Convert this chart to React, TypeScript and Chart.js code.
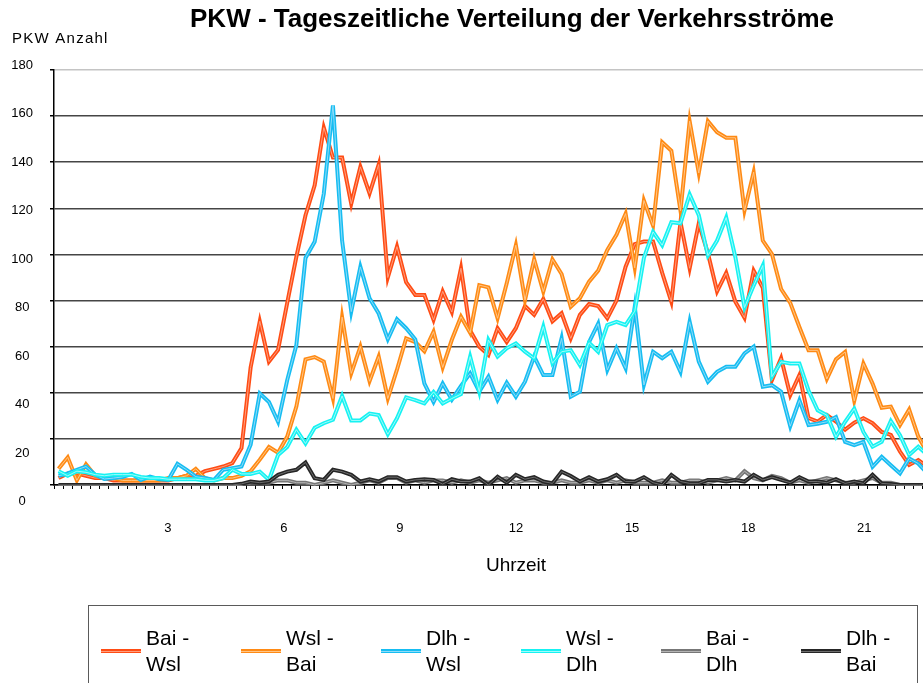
import React, { useEffect, useRef } from 'react';
import { Chart, registerables } from 'chart.js';

Chart.register(...registerables);

// ---- text ----
const TITLE = 'PKW - Tageszeitliche Verteilung der Verkehrsströme';
const Y_TITLE = 'PKW Anzahl';
const X_TITLE = 'Uhrzeit';

// ---- categories: 15-minute slots of the day ----
const SLOTS: string[] = Array.from({ length: 96 }, (_, i) => {
  const h = Math.floor(i / 4);
  const m = (i % 4) * 15;
  return `${String(h).padStart(2, '0')}:${String(m).padStart(2, '0')}`;
});

// ---- tick labels ----
const Y_TICKS = [0, 20, 40, 60, 80, 100, 120, 140, 160, 180];
const HOUR_TICKS = [3, 6, 9, 12, 15, 18, 21];

// ---- series ----
const SERIES_NAMES = ['Bai - Wsl', 'Wsl - Bai', 'Dlh - Wsl', 'Wsl - Dlh', 'Bai - Dlh', 'Dlh - Bai'];

const BAI_WSL = [
  3, 5, 5, 4, 3, 3, 2, 2, 2, 2,
  2, 2, 2, 3, 4, 4, 6, 7, 8, 9.5,
  16, 51, 71, 53.5, 58.6, 79, 99, 117, 130, 155,
  142, 142, 122, 138, 126.5, 139, 90, 103.4, 88, 82.4,
  82.4, 71.6, 84, 75, 94, 67, 60, 56.4, 68, 62,
  68, 77.6, 73.8, 80.7, 71, 74.5, 63.6, 73.8, 78.5, 77.6,
  72.3, 80, 94.7, 104.5, 105.6, 105.6, 92, 79.5, 114, 94,
  113.5, 100.5, 84, 92, 79.5, 72.5, 93, 85.5, 45.5, 55,
  39, 47.7, 29, 27.5, 30.4, 27.5, 24, 27, 29, 26.8,
  23, 21.7, 14.5, 8.7, 10.8, 8,
];

const WSL_BAI = [
  7, 12, 2, 9, 4, 3, 3, 2, 2, 2,
  2, 2, 3, 3, 4, 7, 3, 2, 3, 3,
  4, 6, 11, 16.5, 14, 21, 34, 54.5, 55.5, 53.5,
  37.5, 72.8, 48.4, 60, 45, 55.7, 37.5, 50, 63.6, 62,
  58, 66.5, 51, 63, 73, 66, 86.7, 85.7, 72.3, 87.5,
  104, 80.2, 97.9, 83.9, 97.9, 91.5, 77.3, 81, 88.2, 93,
  102, 108.5, 117.7, 94.2, 123.4, 112.5, 148.7, 145, 119, 157.8,
  135.3, 157.8, 153, 150.6, 150.6, 119, 135.7, 106, 100.2, 85,
  79, 68.5, 58.4, 58.4, 46, 54.5, 57.7, 36.5, 52.7, 44,
  33.5, 34, 26, 32.7, 21, 14,
];

const DLH_WSL = [
  4, 5, 6.6, 8, 4.4, 2.6, 3, 3.5, 4.8, 2.2,
  3.6, 2.5, 2.2, 9.2, 6.6, 3.6, 3, 2.2, 6.6, 7.3,
  8, 17.5, 39.7, 36, 27.4, 45.5, 60.7, 98.5, 105.5, 126.3,
  164.6, 106, 75.2, 94.6, 81, 74.4, 63.2, 71.9, 68, 63.2,
  44, 36, 44, 37, 43, 48.4, 40.5, 47, 36.9, 44.4,
  38.3, 44.8, 55.7, 47.7, 47.7, 63.6, 38.3, 40.5, 62, 70,
  49.9, 59.3, 50.6, 77.3, 43.4, 57.8, 55, 57.8, 49.1, 70.8,
  53.5, 44.8, 49.1, 51.3, 51.3, 57.1, 60, 42.6, 43.3, 40.5,
  25.5, 36.7, 26, 26.6, 27.4, 29.5, 18.7, 17.3, 18.7, 7.9,
  12.2, 8.6, 5, 11.5, 9.3, 5,
];

const WSL_DLH = [
  6, 4, 6, 5.5, 4.5, 4, 4.5, 4.5, 4.5, 3.5,
  3, 3, 2.5, 2.5, 2.5, 2.5, 2, 2, 3, 6.6,
  4.8, 4.8, 5.8, 2.2, 13, 16.5, 24, 18, 24.8, 26.8,
  28.3, 38.6, 28, 28, 31, 30.3, 22, 28.9, 38, 36.8,
  35.4, 40.4, 35.4, 37.5, 39.4, 55.7, 40.5, 62.9, 55.7, 59.3,
  61.4, 57.8, 54.9, 68.7, 52.8, 57.8, 58.5, 52, 61.7, 57.8,
  69.4, 70.8, 69.4, 75.4, 98.5, 109.8, 104, 114, 113.5, 126,
  117, 99.5, 106, 116, 98.8, 77, 86.5, 95.2, 47, 53.4,
  52.7, 52.7, 41, 32.4, 30.3, 20.9, 27.4, 33.1, 23, 16.6,
  18.7, 27.8, 21.6, 13, 16.6, 13,
];

const BAI_DLH = [
  0, 0, 0, 0, 0, 0, 0, 0, 0, 0,
  0, 0, 0, 0, 0, 0, 0, 0, 0, 0,
  0, 1, 1, 1, 2, 2, 1, 1, 0, 1,
  2, 1, 0, 1, 2, 1, 3, 3, 1, 2,
  1, 2, 2, 1, 2, 1, 2, 1, 2, 3,
  1, 2, 2, 1, 1, 2, 1, 1, 2, 1,
  2, 1, 2, 1, 1, 1, 2, 1, 1, 2,
  2, 1, 2, 3, 2, 6, 3, 2, 4, 3,
  1, 2, 1, 2, 3, 2, 1, 1, 2, 3,
  1, 1, 0, 0, 0, 0,
];

const DLH_BAI = [
  0, 0, 0, 0, 0, 0, 0, 0, 0, 0,
  0, 0, 0, 0, 0, 0, 0, 0, 0, 0,
  0.5, 1.5, 1, 1.5, 4.4, 5.8, 6.6, 9.8, 2.9, 2.2,
  6.6, 5.8, 4.4, 1.5, 2.5, 1.5, 3.4, 3.4, 1.5, 2.2,
  2.5, 2.2, 0.4, 2.5, 1.5, 1.5, 2.9, 0, 3.6, 1,
  4.4, 2.5, 3.4, 1.5, 0.7, 5.8, 3.9, 1.5, 3.4, 1.5,
  2.5, 4.4, 1.5, 1.5, 3.4, 1, 0, 4.4, 1.5, 0.7,
  0.7, 2.2, 2.2, 1.5, 2.2, 1.5, 4.4, 2.2, 3.4, 2.2,
  1, 3.4, 1.5, 1.5, 1, 2.5, 0.7, 1.5, 0.7, 4.4,
  0.7, 0.4, 0, 0, 0, 0,
];

const SERIES_VALUES = [BAI_WSL, WSL_BAI, DLH_WSL, WSL_DLH, BAI_DLH, DLH_BAI];
const COLORS = ['#ff4c14', '#ff8a14', '#16bdf2', '#16f2f2', '#777777', '#262626'];
const HIGHLIGHTS = ['#ff9f80', '#ffc688', '#8fdcf8', '#a0fbfb', '#b4b4b4', '#6e6e6e'];

// label-scale ranges (tick labels of the original are laid out on a slightly different scale)
const Y_LABEL_MIN = 6.8;
const Y_LABEL_MAX = 178.07;
const X_LABEL_MIN = 0.06;
const X_LABEL_MAX = 22.75;

const FONT = '"Liberation Sans", Arial, Helvetica, sans-serif';

const highlightPlugin = {
  id: 'lineHighlight',
  afterDatasetDraw(chart: any, args: any) {
    const pts = args.meta.data;
    if (!pts || !pts.length) return;
    const ctx = chart.ctx;
    const a = chart.chartArea;
    ctx.save();
    ctx.beginPath();
    ctx.rect(a.left, a.top - 4, a.right - a.left, a.bottom - a.top + 8);
    ctx.clip();
    ctx.beginPath();
    pts.forEach((p: any, i: number) => (i ? ctx.lineTo(p.x, p.y) : ctx.moveTo(p.x, p.y)));
    ctx.strokeStyle = HIGHLIGHTS[args.index];
    ctx.lineWidth = 1;
    ctx.lineJoin = 'round';
    ctx.stroke();
    ctx.restore();
  },
};

const textPlugin = {
  id: 'texts',
  afterDraw(chart: any) {
    const ctx = chart.ctx;
    ctx.save();
    ctx.fillStyle = '#000';
    ctx.textBaseline = 'alphabetic';
    ctx.font = `bold 26px ${FONT}`;
    ctx.textAlign = 'center';
    ctx.fillText(TITLE, 512, 27);
    ctx.font = `15px ${FONT}`;
    ctx.textAlign = 'left';
    (ctx as any).letterSpacing = '1.25px';
    ctx.fillText(Y_TITLE, 12, 43);
    (ctx as any).letterSpacing = '0px';
    ctx.font = `19px ${FONT}`;
    ctx.textAlign = 'center';
    ctx.fillText(X_TITLE, chart.scales.xl.getPixelForValue(12), 571);
    ctx.restore();
  },
};

export default function App() {
  const ref = useRef<HTMLCanvasElement | null>(null);

  useEffect(() => {
    if (!ref.current) return;
    Chart.defaults.font.family = FONT;
    const chart = new Chart(ref.current, {
      type: 'line',
      data: {
        labels: SLOTS,
        datasets: SERIES_NAMES.map((name, i) => ({
          label: name,
          data: SERIES_VALUES[i],
          borderColor: COLORS[i],
          backgroundColor: COLORS[i],
          borderWidth: 4,
          pointRadius: 0,
          tension: 0,
          fill: false,
          order: SERIES_NAMES.length - 1 - i,
          xAxisID: 'x',
          yAxisID: 'y',
        })),
      },
      options: {
        animation: false,
        responsive: false,
        devicePixelRatio: 1,
        layout: { padding: { left: 0, right: 92, top: 70, bottom: 134 } },
        plugins: {
          legend: { display: false },
          title: { display: false },
          tooltip: { enabled: false },
        },
        scales: {
          x: {
            type: 'category',
            position: 'bottom',
            offset: true,
            weight: 0,
            grid: {
              display: true,
              drawOnChartArea: false,
              drawTicks: true,
              tickLength: 4,
              offset: true,
              color: '#000',
              tickColor: '#000',
              lineWidth: 1,
            },
            border: { display: true, color: '#000', width: 1.5 },
            ticks: { display: false },
          },
          xl: {
            type: 'linear',
            position: 'bottom',
            weight: 1,
            min: X_LABEL_MIN,
            max: X_LABEL_MAX,
            bounds: 'data',
            grid: { display: false, drawTicks: false },
            border: { display: false },
            ticks: { autoSkip: false, padding: 32, maxRotation: 0, color: '#000', font: { size: 13 } },
            afterBuildTicks: (s: any) => {
              s.ticks = HOUR_TICKS.map((v) => ({ value: v }));
            },
            afterFit: (s: any) => {
              s.height = 60;
              s.paddingLeft = 0;
              s.paddingRight = 0;
            },
          },
          y: {
            type: 'linear',
            position: 'left',
            weight: 0,
            min: 0,
            max: 180,
            ticks: { display: false, stepSize: 20 },
            grid: {
              color: (c: any) => (c.tick && c.tick.value === 180 ? '#c4c4c4' : '#454545'),
              lineWidth: 1.5,
              drawTicks: true,
              tickLength: 4,
              tickColor: '#000',
            },
            border: { display: true, color: '#000', width: 1.5 },
            afterFit: (s: any) => {
              s.width = 4;
            },
          },
          yl: {
            type: 'linear',
            position: 'left',
            weight: 1,
            min: Y_LABEL_MIN,
            max: Y_LABEL_MAX,
            bounds: 'data',
            grid: { display: false, drawTicks: false },
            border: { display: false },
            ticks: { autoSkip: false, padding: 17, crossAlign: 'center', color: '#000', font: { size: 13 } },
            afterBuildTicks: (s: any) => {
              s.ticks = Y_TICKS.map((v) => ({ value: v }));
            },
            afterFit: (s: any) => {
              s.width = 50;
              s.paddingTop = 0;
              s.paddingBottom = 0;
            },
          },
        },
      } as any,
      plugins: [highlightPlugin, textPlugin],
    });
    return () => chart.destroy();
  }, []);

  return (
    <div
      style={{
        position: 'fixed',
        left: 0,
        top: 0,
        width: 923,
        height: 683,
        overflow: 'hidden',
        background: '#fff',
      }}
    >
      <canvas ref={ref} width={1024} height={683} style={{ position: 'absolute', left: 0, top: 0 }} />
      <div
        style={{
          position: 'absolute',
          left: 88,
          top: 605,
          width: 830,
          height: 120,
          border: '1px solid #5a5a5a',
          boxSizing: 'border-box',
          fontFamily: '"Liberation Sans Narrow", "Arial Narrow", "Liberation Sans", Arial, sans-serif',
          fontSize: 21,
          color: '#000',
        }}
      >
        {SERIES_NAMES.map((name, i) => (
          <div key={name} style={{ position: 'absolute', left: 12 + i * 140, top: 0, width: 140, height: 100 }}>
            <div
              style={{
                position: 'absolute',
                left: 0,
                top: 43,
                width: 40,
                height: 4,
                background: COLORS[i],
              }}
            >
              <div style={{ position: 'absolute', left: 0, top: 1.5, width: 40, height: 1, background: HIGHLIGHTS[i] }} />
            </div>
            <div
              style={{
                position: 'absolute',
                left: 45,
                top: 19,
                width: 52,
                lineHeight: '26px',
              }}
            >
              {name}
            </div>
          </div>
        ))}
      </div>
    </div>
  );
}
